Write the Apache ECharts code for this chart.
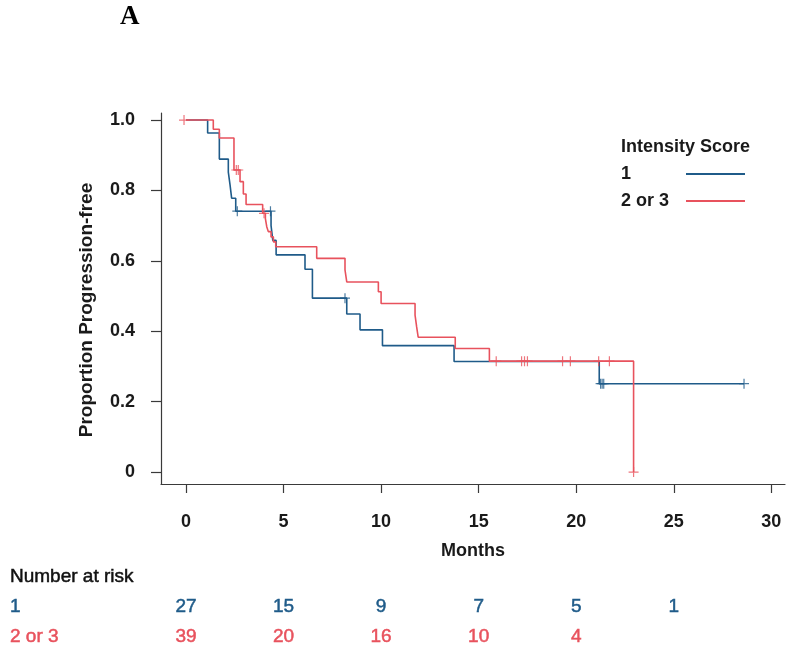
<!DOCTYPE html>
<html><head><meta charset="utf-8">
<script src="https://cdn.jsdelivr.net/npm/echarts@6/dist/echarts.min.js"></script>
<style>html,body{margin:0;padding:0;background:#fff}#c{width:800px;height:664px}</style>
</head><body><div id="c"></div>
<script>
// ---- data ----
const xTicks = [0, 5, 10, 15, 20, 25, 30];
const yTicks = [0, 0.2, 0.4, 0.6, 0.8, 1.0];
const yTickLabels = ['0', '0.2', '0.4', '0.6', '0.8', '1.0'];
const groupNames = ['1', '2 or 3'];
const legendTitle = 'Intensity Score';

// Kaplan-Meier steps [month, proportion]
const score1Steps = [
  [0, 1], [1.11, 0.963], [1.71, 0.889], [2.17, 0.852], [2.26, 0.815], [2.34, 0.778],
  [2.55, 0.741], [4.36, 0.700], [4.45, 0.658], [4.62, 0.617], [6.10, 0.576],
  [6.48, 0.494], [8.24, 0.449], [8.92, 0.404], [10.07, 0.359], [13.74, 0.314],
  [21.18, 0.251], [28.6, 0.251]
];
const score1Censor = [
  [2.63, 0.741], [4.33, 0.741], [8.15, 0.494], [21.25, 0.251], [21.33, 0.251],
  [21.41, 0.251], [28.6, 0.251]
];
const score23Steps = [
  [0, 1], [1.40, 0.974], [1.71, 0.949], [2.46, 0.858], [2.77, 0.825], [2.94, 0.790],
  [3.08, 0.760], [3.93, 0.735], [4.07, 0.720], [4.14, 0.697], [4.22, 0.683],
  [4.36, 0.668], [4.48, 0.654], [4.60, 0.640], [6.70, 0.607], [8.15, 0.574],
  [8.24, 0.540], [9.86, 0.512], [10.00, 0.479], [11.74, 0.446], [11.82, 0.413],
  [11.90, 0.383], [13.80, 0.351], [15.55, 0.315], [22.94, 0]
];
const score23Censor = [
  [-0.1, 1], [2.58, 0.858], [2.68, 0.858], [4.0, 0.735], [15.9, 0.315], [17.2, 0.315],
  [17.35, 0.315], [17.5, 0.315], [19.3, 0.315], [19.7, 0.315], [21.15, 0.315],
  [21.7, 0.315], [22.94, 0]
];

// Number at risk
const riskTimes = [0, 5, 10, 15, 20, 25];
const risk1 = [27, 15, 9, 7, 5, 1];
const risk23 = [39, 20, 16, 10, 4, null];

// ---- chart ----
const BLUE = '#1f5b89';
const RED = '#e8525d';
const FONT = '"Liberation Sans", Arial, Helvetica, sans-serif';
const AX = '#3a3a3a';
const plus = 'path://M4.4,0H5.6V10H4.4ZM0,4.4H10V5.6H0Z';

const chart = echarts.init(document.getElementById('c'), null, {renderer: 'canvas'});

const option = {
  animation: false,
  backgroundColor: '#fff',
  grid: {left: 161, top: 113, right: 15, bottom: 180, containLabel: false},
  xAxis: {
    type: 'value', min: -1.28, max: 30.7,
    axisLine: {show: true, onZero: false, lineStyle: {color: AX, width: 1.2}},
    axisTick: {show: true, length: 9, customValues: xTicks, lineStyle: {color: AX, width: 1.2}},
    axisLabel: {customValues: xTicks, margin: 29, fontSize: 18, fontWeight: 'bold', color: '#1a1a1a', fontFamily: FONT},
    splitLine: {show: false},
    name: 'Months', nameLocation: 'middle', nameGap: 58,
    nameTextStyle: {fontSize: 18, fontWeight: 'bold', color: '#1a1a1a', fontFamily: FONT}
  },
  yAxis: {
    type: 'value', min: -0.034, max: 1.02,
    axisLine: {show: true, onZero: false, lineStyle: {color: AX, width: 1.2}},
    axisTick: {show: true, length: 10, customValues: yTicks, lineStyle: {color: AX, width: 1.2}},
    axisLabel: {
      customValues: yTicks, margin: 26, fontSize: 18, fontWeight: 'bold', color: '#1a1a1a', fontFamily: FONT,
      formatter: function (v) {
        for (let i = 0; i < yTicks.length; i++) if (Math.abs(yTicks[i] - v) < 1e-6) return yTickLabels[i];
        return '';
      }
    },
    splitLine: {show: false}
  },
  series: [
    {name: groupNames[0], type: 'line', step: 'end', data: score1Steps, showSymbol: false,
      lineStyle: {color: BLUE, width: 1.6}, z: 2},
    {name: groupNames[1], type: 'line', step: 'end', data: score23Steps, showSymbol: false,
      lineStyle: {color: RED, width: 1.6}, z: 3},
    {type: 'scatter', data: score1Censor, symbol: plus, symbolSize: 10,
      itemStyle: {color: BLUE}, z: 4},
    {type: 'scatter', data: score23Censor, symbol: plus, symbolSize: 10,
      itemStyle: {color: RED}, z: 5}
  ]
};
chart.setOption(option);

// legend, panel letter, risk table as text graphics
const g = [];
g.push({type: 'text', left: 120, top: 4, style: {text: 'A', font: 'bold 27px "Liberation Serif", "Times New Roman", serif', fill: '#000'}});
g.push({type: 'text', x: 621, y: 147, style: {text: legendTitle, font: 'bold 18px ' + FONT, fill: '#1a1a1a', verticalAlign: 'middle'}});
const legCol = [BLUE, RED];
const legY = [174, 201];
for (let i = 0; i < 2; i++) {
  g.push({type: 'text', x: 621, y: legY[i], style: {text: groupNames[i], font: 'bold 18px ' + FONT, fill: '#1a1a1a', verticalAlign: 'middle'}});
  g.push({type: 'line', shape: {x1: 686, y1: legY[i], x2: 745, y2: legY[i]}, style: {stroke: legCol[i], lineWidth: 2}});
}
// y-axis title
g.push({type: 'text', x: 87, y: 310, rotation: Math.PI / 2,
  style: {text: 'Proportion Progression-free', font: 'bold 19px ' + FONT, fill: '#1a1a1a', align: 'center', verticalAlign: 'middle'}});
// risk table
const tFont = '19px ' + FONT;
g.push({type: 'text', x: 10, y: 577, style: {text: 'Number at risk', font: tFont, fill: '#111', verticalAlign: 'middle', stroke: '#111', lineWidth: 0.5}});
const rows = [risk1, risk23];
const rowY = [607, 637];
for (let r = 0; r < 2; r++) {
  g.push({type: 'text', x: 10, y: rowY[r], style: {text: groupNames[r], font: tFont, fill: legCol[r], verticalAlign: 'middle', stroke: legCol[r], lineWidth: 0.5}});
  for (let i = 0; i < riskTimes.length; i++) {
    if (rows[r][i] == null) continue;
    const px = chart.convertToPixel({xAxisIndex: 0}, riskTimes[i]);
    g.push({type: 'text', x: px, y: rowY[r], style: {text: String(rows[r][i]), font: tFont, fill: legCol[r], align: 'center', verticalAlign: 'middle', stroke: legCol[r], lineWidth: 0.5}});
  }
}
chart.setOption({graphic: g});
</script>
</body></html>
